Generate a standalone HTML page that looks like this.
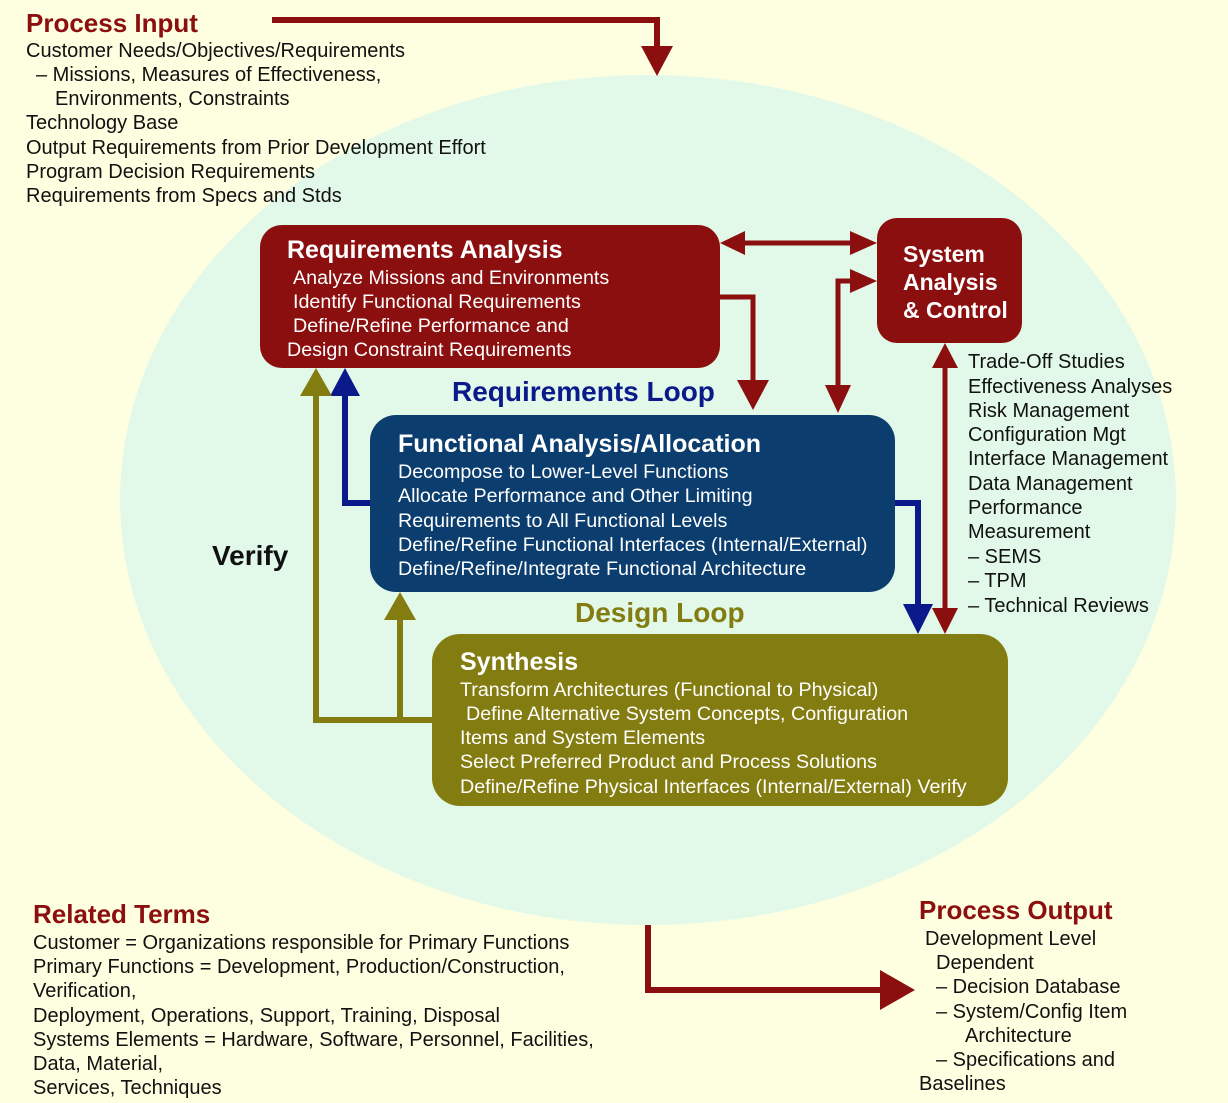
<!DOCTYPE html>
<html><head><meta charset="utf-8"><style>
html,body{margin:0;padding:0;background:#fefee0}
svg{display:block}
text{font-family:"Liberation Sans",sans-serif}
.b{font-size:20px;fill:#111}
.w{font-size:19.7px;fill:#fff}
.wt{font-size:25px;font-weight:bold;fill:#fff}
.rt{font-size:26px;font-weight:bold;fill:#8b0f0f}
</style></head><body>
<svg width="1228" height="1103" viewBox="0 0 1228 1103" xmlns="http://www.w3.org/2000/svg">
<rect width="1228" height="1103" fill="#fefee0"/>
<ellipse cx="648" cy="500" rx="528" ry="425" fill="#e2f9ea"/>

<polyline points="272,20 657,20 657,50" fill="none" stroke="#8b0f0f" stroke-width="6"/>
<polygon points="641,46 673,46 657,76" fill="#8b0f0f"/>

<rect x="260" y="225" width="460" height="143" rx="22" fill="#8b0f0f"/>
<rect x="877" y="218" width="145" height="125" rx="20" fill="#8b0f0f"/>
<rect x="370" y="415" width="525" height="177" rx="26" fill="#0b3d6e"/>
<rect x="432" y="634" width="576" height="172" rx="28" fill="#837c10"/>

<line x1="740" y1="243" x2="855" y2="243" stroke="#8b0f0f" stroke-width="5"/>
<polygon points="720,243 745,231 745,255" fill="#8b0f0f"/>
<polygon points="877,243 850,231 850,255" fill="#8b0f0f"/>
<polyline points="720,297 753,297 753,385" fill="none" stroke="#8b0f0f" stroke-width="5"/>
<polygon points="737,380 769,380 753,410" fill="#8b0f0f"/>
<polyline points="860,281 838,281 838,390" fill="none" stroke="#8b0f0f" stroke-width="5"/>
<polygon points="877,281 850,269 850,293" fill="#8b0f0f"/>
<polygon points="825,385 851,385 838,413" fill="#8b0f0f"/>
<line x1="945" y1="365" x2="945" y2="612" stroke="#8b0f0f" stroke-width="5"/>
<polygon points="945,343 932,368 958,368" fill="#8b0f0f"/>
<polygon points="932,608 958,608 945,634" fill="#8b0f0f"/>

<polyline points="895,503 918,503 918,608" fill="none" stroke="#0a1a8a" stroke-width="6"/>
<polygon points="903,604 933,604 918,634" fill="#0a1a8a"/>
<polyline points="370,503 345,503 345,390" fill="none" stroke="#0a1a8a" stroke-width="6"/>
<polygon points="330,396 360,396 345,368" fill="#0a1a8a"/>

<polyline points="432,720 316,720 316,390" fill="none" stroke="#837c10" stroke-width="6"/>
<polygon points="300,396 332,396 316,368" fill="#837c10"/>
<line x1="400" y1="720" x2="400" y2="615" stroke="#837c10" stroke-width="6"/>
<polygon points="384,620 416,620 400,592" fill="#837c10"/>

<polyline points="648,925 648,990 885,990" fill="none" stroke="#8b0f0f" stroke-width="6"/>
<polygon points="880,970 915,990 880,1010" fill="#8b0f0f"/>

<text x="26" y="32" class="rt">Process Input</text>
<text class="b" x="26" y="57">Customer Needs/Objectives/Requirements</text>
<text class="b" x="36" y="81">– Missions, Measures of Effectiveness,</text>
<text class="b" x="55" y="105">Environments, Constraints</text>
<text class="b" x="26" y="129">Technology Base</text>
<text class="b" x="26" y="154">Output Requirements from Prior Development Effort</text>
<text class="b" x="26" y="178">Program Decision Requirements</text>
<text class="b" x="26" y="202">Requirements from Specs and Stds</text>

<text x="287" y="258" class="wt">Requirements Analysis</text>
<text class="w" x="293" y="284">Analyze Missions and Environments</text>
<text class="w" x="293" y="308">Identify Functional Requirements</text>
<text class="w" x="293" y="332">Define/Refine Performance and</text>
<text class="w" x="287" y="356">Design Constraint Requirements</text>

<text x="903" y="262" class="wt" style="font-size:23px">System</text>
<text x="903" y="290" class="wt" style="font-size:23px">Analysis</text>
<text x="903" y="318" class="wt" style="font-size:23px">&amp; Control</text>

<text x="452" y="401" style="font-size:28px;font-weight:bold;fill:#0a1a8a">Requirements Loop</text>

<text x="398" y="452" class="wt">Functional Analysis/Allocation</text>
<text class="w" x="398" y="478">Decompose to Lower-Level Functions</text>
<text class="w" x="398" y="502">Allocate Performance and Other Limiting</text>
<text class="w" x="398" y="527">Requirements to All Functional Levels</text>
<text class="w" x="398" y="551">Define/Refine Functional Interfaces (Internal/External)</text>
<text class="w" x="398" y="575">Define/Refine/Integrate Functional Architecture</text>

<text x="575" y="622" style="font-size:28px;font-weight:bold;fill:#837c10">Design Loop</text>
<text x="212" y="565" style="font-size:28px;font-weight:bold;fill:#111">Verify</text>

<text x="460" y="670" class="wt">Synthesis</text>
<text class="w" x="460" y="696">Transform Architectures (Functional to Physical)</text>
<text class="w" x="466" y="720">Define Alternative System Concepts, Configuration</text>
<text class="w" x="460" y="744">Items and System Elements</text>
<text class="w" x="460" y="768">Select Preferred Product and Process Solutions</text>
<text class="w" x="460" y="793">Define/Refine Physical Interfaces (Internal/External) Verify</text>

<text class="b" x="968" y="368">Trade-Off Studies</text>
<text class="b" x="968" y="393">Effectiveness Analyses</text>
<text class="b" x="968" y="417">Risk Management</text>
<text class="b" x="968" y="441">Configuration Mgt</text>
<text class="b" x="968" y="465">Interface Management</text>
<text class="b" x="968" y="490">Data Management</text>
<text class="b" x="968" y="514">Performance</text>
<text class="b" x="968" y="538">Measurement</text>
<text class="b" x="968" y="563">– SEMS</text>
<text class="b" x="968" y="587">– TPM</text>
<text class="b" x="968" y="612">– Technical Reviews</text>

<text x="33" y="923" class="rt">Related Terms</text>
<text class="b" x="33" y="949">Customer = Organizations responsible for Primary Functions</text>
<text class="b" x="33" y="973">Primary Functions = Development, Production/Construction,</text>
<text class="b" x="33" y="997">Verification,</text>
<text class="b" x="33" y="1022">Deployment, Operations, Support, Training, Disposal</text>
<text class="b" x="33" y="1046">Systems Elements = Hardware, Software, Personnel, Facilities,</text>
<text class="b" x="33" y="1070">Data, Material,</text>
<text class="b" x="33" y="1094">Services, Techniques</text>

<text x="919" y="919" class="rt">Process Output</text>
<text class="b" x="925" y="945">Development Level</text>
<text class="b" x="936" y="969">Dependent</text>
<text class="b" x="936" y="993">– Decision Database</text>
<text class="b" x="936" y="1018">– System/Config Item</text>
<text class="b" x="965" y="1042">Architecture</text>
<text class="b" x="936" y="1066">– Specifications and</text>
<text class="b" x="919" y="1090">Baselines</text>
</svg>
</body></html>
